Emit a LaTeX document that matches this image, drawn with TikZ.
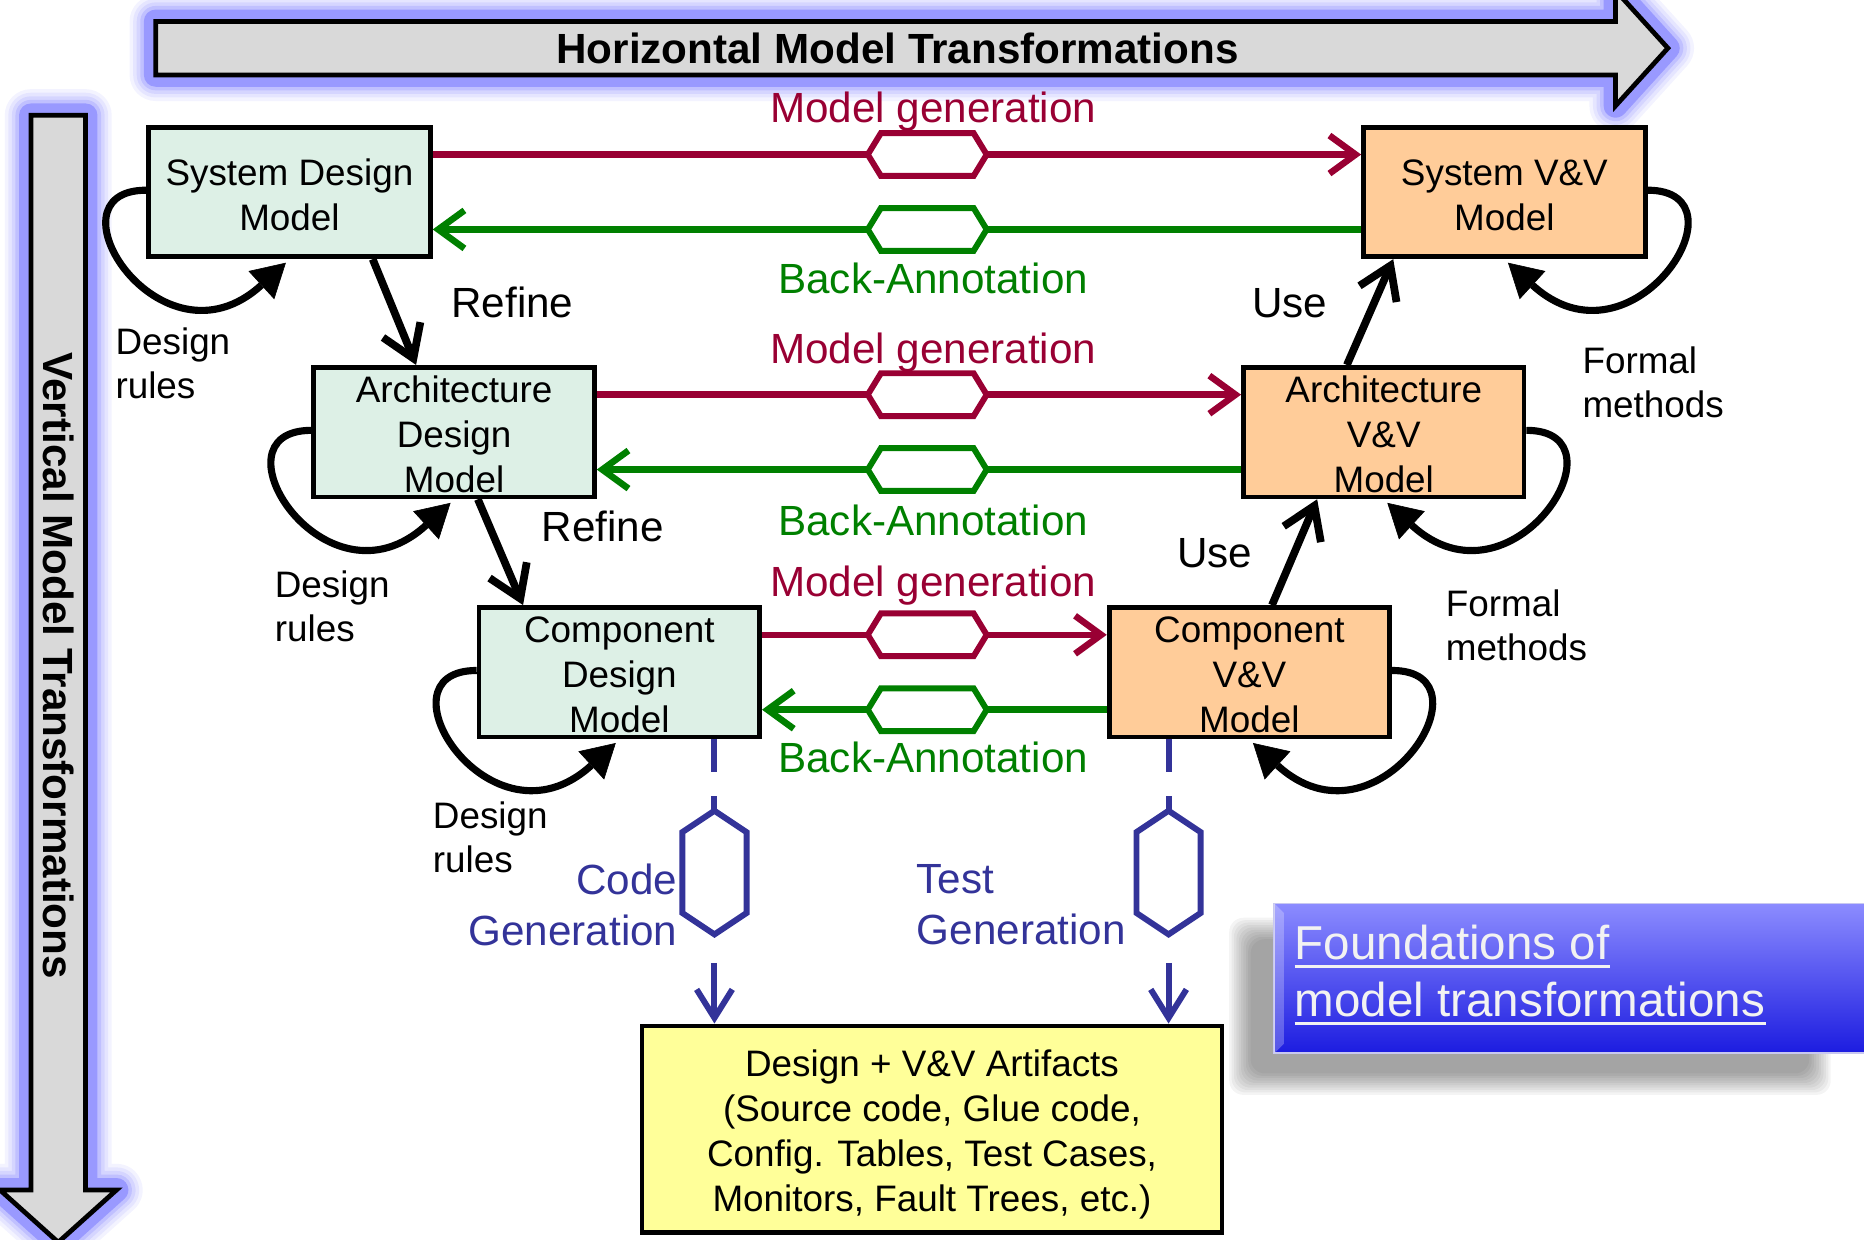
\documentclass[tikz,border=0pt]{standalone}
\usepackage{fontspec}
\setmainfont{Liberation Sans}
\usetikzlibrary{arrows.meta,calc}

\definecolor{gencol}{HTML}{990033}
\definecolor{backcol}{HTML}{008000}
\definecolor{codecol}{HTML}{333399}
\definecolor{designfill}{HTML}{DDF0E6}
\definecolor{vvfill}{HTML}{FFCC99}
\definecolor{artfill}{HTML}{FFFF99}
\definecolor{glowcol}{HTML}{9999FF}
\definecolor{bargray}{HTML}{D9D9D9}
\definecolor{fndtop}{HTML}{8C8CFF}
\definecolor{fndmid}{HTML}{6464F2}
\definecolor{fndbot}{HTML}{1C1CE0}
\definecolor{fndedge}{HTML}{C8C8F0}
\definecolor{fndtext}{HTML}{F2F2F2}

\newcommand{\boxfont}{\fontsize{31pt}{38pt}\selectfont}
\newcommand{\notefont}{\fontsize{31pt}{37pt}\selectfont}
\newcommand{\flowfont}{\fontsize{35.5pt}{43pt}\selectfont}
\newcommand{\barfont}{\fontsize{35.5pt}{43pt}\selectfont\bfseries}
\newcommand{\fndfont}{\fontsize{40pt}{48pt}\selectfont}
% invisible strut that lowers multi-line box text a little
\newcommand{\toplift}[1]{\rule{0pt}{#1}}

\tikzset{
  modelbox/.style={draw=black, line width=4pt, minimum width=237pt, minimum height=109pt,
    inner sep=0pt, align=center, font=\boxfont},
  designbox/.style={modelbox, fill=designfill},
  vvbox/.style={modelbox, fill=vvfill},
  genline/.style={draw=gencol, line width=5.5pt, -{Straight Barb[length=22pt,width=32pt]}},
  backline/.style={draw=backcol, line width=5.5pt, -{Straight Barb[length=22pt,width=32pt]}},
  stepline/.style={draw=black, line width=6.5pt, -{Straight Barb[length=26pt,width=34pt]}},
  selfloop/.style={draw=black, line width=6pt, -{Triangle[length=28pt,width=32pt,line width=0.5pt]}},
  codeline/.style={draw=codecol, line width=5pt},
  notelabel/.style={font=\notefont, inner sep=0pt, align=left, anchor=west},
  flowlabel/.style={font=\flowfont, inner sep=0pt},
  hexh/.pic={\draw[line width=5pt, fill=white, draw=#1]
    (-50,0) -- (-39,-18) -- (39,-18) -- (50,0) -- (39,18) -- (-39,18) -- cycle;},
  hexv/.pic={\draw[line width=5pt, fill=white, draw=#1]
    (0,-52) -- (27,-34) -- (27,34) -- (0,52) -- (-27,34) -- (-27,-34) -- cycle;}
}

\begin{document}
\begin{tikzpicture}[x=1pt, y=-1pt]
\useasboundingbox (0,0) rectangle (1568,1043);

% soft glow behind the two transformation bars
\foreach \w/\o in {44/0.12,38/0.15,32/0.22,26/0.35,20/1}{
  \draw[glowcol, line width=\w pt, opacity=\o, line join=round]
    (131,18) -- (1359,18) -- (1359,-8) -- (1403,40.5) -- (1359,89) -- (1359,63) -- (131,63) -- cycle;
  \draw[glowcol, line width=\w pt, opacity=\o, line join=round]
    (26,97) -- (72,97) -- (72,1001) -- (98,1001) -- (49,1045) -- (0,1001) -- (26,1001) -- cycle;
}

% horizontal bar
\draw[fill=bargray, line width=4pt, line join=miter]
  (131,18) -- (1359,18) -- (1359,-8) -- (1403,40.5) -- (1359,89) -- (1359,63) -- (131,63) -- cycle;
\node[font=\barfont, inner sep=0pt] (htitle) at (755,40.5) {Horizontal Model Transformations};

% vertical bar
\draw[fill=bargray, line width=4pt, line join=miter]
  (26,97) -- (72,97) -- (72,1001) -- (98,1001) -- (49,1045) -- (0,1001) -- (26,1001) -- cycle;
\node[font=\barfont, inner sep=0pt, rotate=-90] (vtitle) at (49,560) {Vertical Model Transformations};

% models
\node[designbox] (sd) at (243.5,161.5) {\toplift{27pt}System Design\\Model};
\node[vvbox] (sv) at (1265.5,161.5) {\toplift{27pt}System V\&V\\Model};
\node[designbox, minimum width=236pt] (ad) at (382,363.5) {\toplift{26pt}Architecture\\Design\\Model};
\node[vvbox, minimum width=236pt] (av) at (1164,363.5) {\toplift{26pt}Architecture\\V\&V\\Model};
\node[designbox, minimum width=236pt] (cd) at (521,565.5) {\toplift{26pt}Component\\Design\\Model};
\node[vvbox, minimum width=236pt] (cv) at (1051,565.5) {\toplift{26pt}Component\\V\&V\\Model};
\node[modelbox, fill=artfill, minimum width=488pt, minimum height=174pt] (art) at (784,950)
  {\toplift{31pt}Design + V\&V Artifacts\\(Source code, Glue code,\\Config. Tables, Test Cases,\\Monitors, Fault Trees, etc.)};

% model generation / back-annotation between design and V&V models
\coordinate (hx) at (780,0);
\foreach \d/\v/\i in {sd/sv/1, ad/av/2, cd/cv/3}{
  \coordinate (r\i) at ($(\d.north east)+(0,25)$);
  \coordinate (g\i) at ($(\d.south east)+(0,-25)$);
  \draw[genline] (r\i) -- (r\i -| \v.west);
  \draw[backline] (g\i -| \v.west) -- (g\i);
  \pic at (hx |- r\i) {hexh=gencol};
  \pic at (hx |- g\i) {hexh=backcol};
}
\node[flowlabel, text=gencol] (mg1) at (785,93.5) {Model generation};
\node[flowlabel, text=backcol] (ba1) at (785,234) {Back-Annotation};
\node[flowlabel, text=gencol] (mg2) at (785,296.5) {Model generation};
\node[flowlabel, text=backcol] (ba2) at (785,438) {Back-Annotation};
\node[flowlabel, text=gencol] (mg3) at (785,492.5) {Model generation};
\node[flowlabel, text=backcol] (ba3) at (785,637) {Back-Annotation};

% refinement and use
\draw[stepline] ($(sd.south)+(70,0)$) -- ($(ad.north)+(-32,0)$);
\draw[stepline] ($(ad.south)+(20,0)$) -- ($(cd.north)+(-81,0)$);
\draw[stepline] ($(av.north)+(-31,0)$) -- ($(sv.south)+(-93.5,0)$);
\draw[stepline] ($(cv.north)+(19,0)$) -- ($(av.south)+(-56,0)$);
\node[flowlabel] (ref1) at (431,254) {Refine};
\node[flowlabel] (ref2) at (507,443) {Refine};
\node[flowlabel] (use1) at (1085,255) {Use};
\node[flowlabel] (use2) at (1022,465) {Use};

% self loops
\foreach \m in {sd,ad,cd}{
  \draw[selfloop] ($(\m.west)+(0,-1.5)$) .. controls +(-88,0) and +(-105,96) .. ($(\m.south)+(-3,3)$);
}
\foreach \m in {sv,av,cv}{
  \draw[selfloop] ($(\m.east)+(0,-1.5)$) .. controls +(88,0) and +(105,96) .. ($(\m.south)+(3,3)$);
}
\node[notelabel] (dr1) at (97,306) {Design\\rules};
\node[notelabel] (dr2) at (231,510) {Design\\rules};
\node[notelabel] (dr3) at (364,704) {Design\\rules};
\node[notelabel] (fm1) at (1331,322) {Formal\\methods};
\node[notelabel] (fm2) at (1216,526) {Formal\\methods};

% code and test generation
\coordinate (cs) at ($(cd.south)+(80,0)$);
\coordinate (ch) at ($(cs)+(0,112)$);
\coordinate (ts) at ($(cv.south)+(-68,0)$);
\coordinate (th) at ($(ts)+(0,112)$);
\foreach \s/\h in {cs/ch, ts/th}{
  \draw[codeline, dash pattern=on 27pt off 21pt] (\s) -- ($(\h)+(0,-52)$);
  \draw[codeline, dash pattern=on 80pt off 24pt, dash phase=80pt,
    -{Straight Barb[length=24pt,width=30pt]}] ($(\h)+(0,52)$) -- (\s |- art.north);
  \pic at (\h) {hexv=codecol};
}
\node[flowlabel, text=codecol, align=right, anchor=east] (cg) at (570,761) {Code\\Generation};
\node[flowlabel, text=codecol, align=left, anchor=west] (tg) at (771,761) {Test\\Generation};

% foundations button with its shadow
\foreach \k in {0,...,9}{
  \fill[black, opacity=0.045, rounded corners=12pt] (1052-2*\k,790-2*\k) rectangle (1522+2*\k,903+2*\k);
}
\shade[top color=fndtop, middle color=fndmid, bottom color=fndbot] (1072,760) rectangle (1572,886);
\draw[fndedge, line width=1.5pt] (1572,760) -- (1072,760) -- (1072,886) -- (1572,886);
\fill[white, opacity=0.25] (1072,760) -- (1080,768) -- (1080,878) -- (1072,886) -- cycle;
\node[anchor=base west, inner sep=0pt, font=\fndfont, text=fndtext] (fnd1) at (1089,807) {Foundations of};
\node[anchor=base west, inner sep=0pt, font=\fndfont, text=fndtext] (fnd2) at (1089,855) {model transformations};
\draw[fndtext, line width=2.5pt] ($(fnd1.base west)+(0,6)$) -- ($(fnd1.base east)+(0,6)$);
\draw[fndtext, line width=2.5pt] ($(fnd2.base west)+(0,6)$) -- ($(fnd2.base east)+(0,6)$);
\end{tikzpicture}
\end{document}
